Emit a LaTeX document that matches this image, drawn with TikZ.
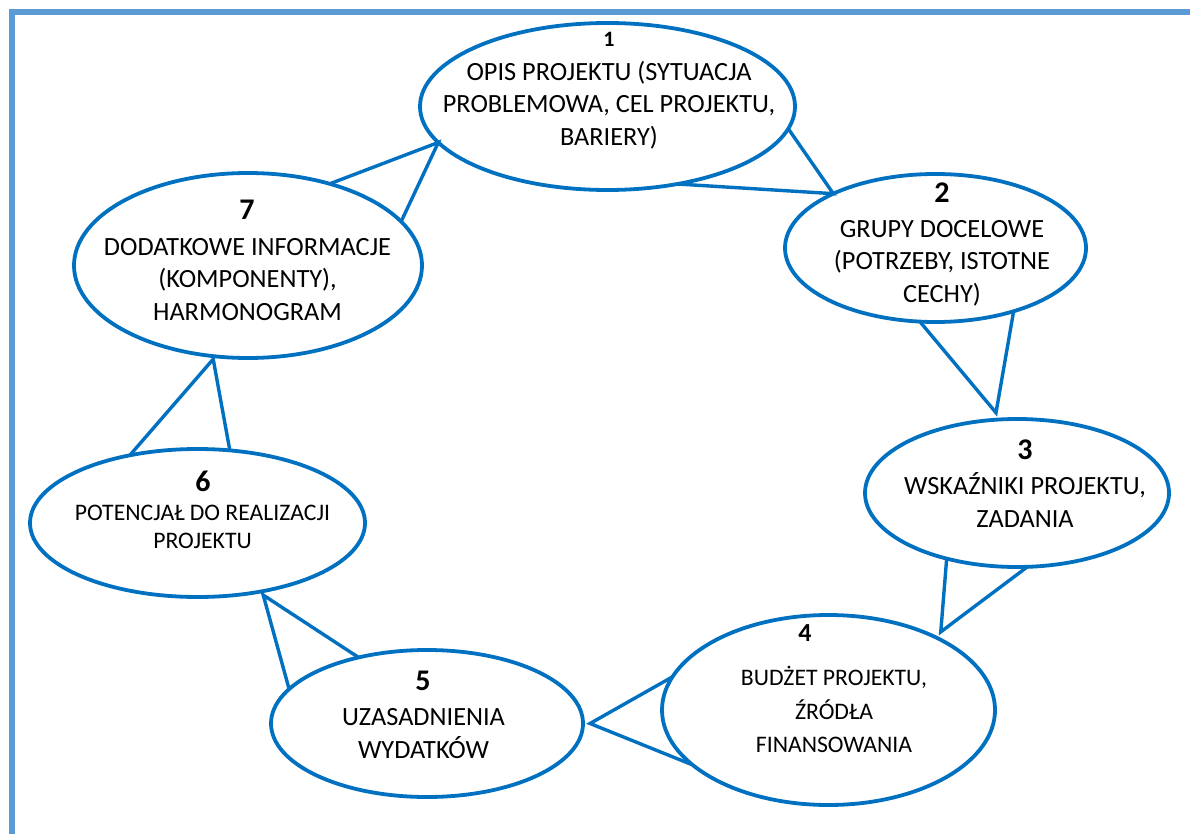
\documentclass[tikz,border=0pt]{standalone}
\usepackage{fontspec}
\setmainfont{Carlito}
\usetikzlibrary{shapes.geometric}
\definecolor{callblue}{RGB}{0,112,192}
\definecolor{pageblue}{RGB}{91,155,213}
\newcommand\topfix{\rule{0pt}{0.95em}}
\newcommand\botfix{\rule[-0.306em]{0pt}{0.306em}}

\begin{document}
\begin{tikzpicture}[x=1pt,y=-1pt,
  bubble/.style={ellipse, draw=callblue, line width=3.8pt, fill=white, inner sep=0pt, outer sep=0pt},
  tail/.style={draw=callblue, line width=3.4pt},
  num/.style={font=\bfseries\fontsize{30}{36}\selectfont, inner sep=0pt, text depth=0pt},
  txt/.style={align=center, inner sep=0pt},
  bigtxt/.style={txt, font=\fontsize{26.3}{32.3}\selectfont},
  smalltxt/.style={txt, font=\fontsize{23.7}{28}\selectfont}]
\useasboundingbox (0,0) rectangle (1190,834);
\draw[pageblue, line width=6pt] (12,834) -- (12,12) -- (1190,12);

\node[bubble, minimum width=375pt, minimum height=167pt] (e1) at (607.5,106.5) {};
\node[bubble, minimum width=301pt, minimum height=148pt] (e2) at (935.5,248) {};
\node[bubble, minimum width=304pt, minimum height=148pt] (e3) at (1017,493) {};
\node[bubble, minimum width=333pt, minimum height=190pt] (e4) at (828.5,710) {};
\node[bubble, minimum width=312pt, minimum height=147pt] (e5) at (427,723.5) {};
\node[bubble, minimum width=335pt, minimum height=148pt] (e6) at (197.5,523) {};
\node[bubble, minimum width=348pt, minimum height=185pt] (e7) at (248,265.5) {};

\node[num, font=\bfseries\fontsize{22}{26}\selectfont] (n1) at (609,39) {1};
\node[num] (n2) at (942,192.5) {2};
\node[num] (n3) at (1025,450) {3};
\node[num, font=\bfseries\fontsize{26}{30}\selectfont] (n4) at (805,633) {4};
\node[num] (n5) at (423,681) {5};
\node[num] (n6) at (203,481) {6};
\node[num] (n7) at (247,210) {7};

\node[bigtxt] (t1) at (609,104.5) {\topfix OPIS PROJEKTU (SYTUACJA\\PROBLEMOWA, CEL PROJEKTU,\\BARIERY)\botfix};
\node[bigtxt] (t2) at (942,261.5) {\topfix GRUPY DOCELOWE\\(POTRZEBY, ISTOTNE\\CECHY)\botfix};
\node[bigtxt] (t3) at (1025,502.5) {\topfix WSKAŹNIKI PROJEKTU,\\ZADANIA\botfix};
\node[smalltxt, font=\fontsize{23.7}{33.5}\selectfont] (t4) at (834,711.5) {\topfix BUDŻET PROJEKTU,\\ŹRÓDŁA\\FINANSOWANIA\botfix};
\node[bigtxt] (t5) at (423.5,733.5) {\topfix UZASADNIENIA\\WYDATKÓW\botfix};
\node[smalltxt] (t6) at (202.5,526.5) {\topfix POTENCJAŁ DO REALIZACJI\\PROJEKTU\botfix};
\node[bigtxt] (t7) at (247.5,279.5) {\topfix DODATKOWE INFORMACJE\\(KOMPONENTY),\\HARMONOGRAM\botfix};

\draw[tail] (e1.-7) -- (e2.152) -- (e1.-48);
\draw[tail] (e2.-102) -- ([yshift=7pt]e3.106) -- (e2.-39);
\draw[tail] (e3.-137) -- ([yshift=8pt]e4.32) -- (e3.-82);
\draw[tail] (e4.168) -- ([xshift=7pt]e5.east) -- (e4.202);
\draw[tail] (e5.136) -- ([yshift=-4pt]e6.-46) -- (e5.166);
\draw[tail] (e6.135) -- ([yshift=-3pt]e7.-111) -- (e6.66);
\draw[tail] (e7.45) -- (e1.-168) -- (e7.16);
\end{tikzpicture}
\end{document}
